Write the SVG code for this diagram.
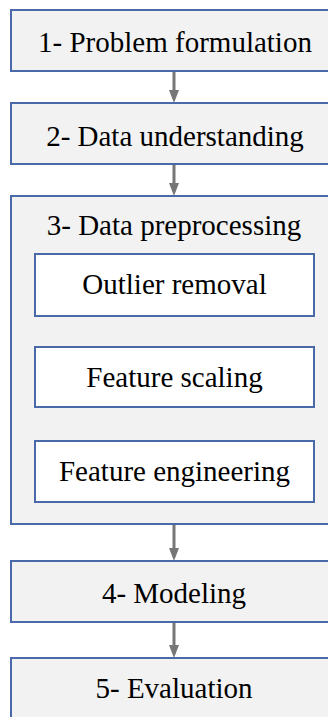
<svg xmlns="http://www.w3.org/2000/svg" width="328" height="717" viewBox="0 0 328 717">
<style>
.box{fill:#f2f2f2;stroke:#4a69a8;stroke-width:2}
.inner{fill:#ffffff;stroke:#4a69a8;stroke-width:2}
.t{font-family:"Liberation Serif","Times New Roman",serif;font-size:29px;fill:#000000;text-anchor:middle}
.shaft{stroke:#767676;stroke-width:3}
.head{fill:#767676}
</style>
<rect x="0" y="0" width="328" height="717" fill="#ffffff"/>
<g id="connectors">
<line class="shaft" x1="174" y1="71" x2="174" y2="91"/><polygon class="head" points="169,90 179,90 174,103"/>
<line class="shaft" x1="174" y1="164" x2="174" y2="184"/><polygon class="head" points="169,183 179,183 174,196"/>
<line class="shaft" x1="174" y1="524" x2="174" y2="549"/><polygon class="head" points="169,548 179,548 174,561"/>
<line class="shaft" x1="174" y1="622" x2="174" y2="646"/><polygon class="head" points="169,645 179,645 174,658"/>
</g>
<g id="n1"><rect class="box" x="11" y="10" width="340" height="61"/><text class="t" x="175" y="52">1- Problem formulation</text></g>
<g id="n2"><rect class="box" x="11" y="103" width="340" height="61"/><text class="t" x="175" y="146">2- Data understanding</text></g>
<g id="n3"><rect class="box" x="11" y="196" width="340" height="328"/><text class="t" x="174" y="235">3- Data preprocessing</text></g>
<g id="n3a"><rect class="inner" x="35" y="254" width="279" height="62"/><text class="t" x="174.5" y="294">Outlier removal</text></g>
<g id="n3b"><rect class="inner" x="35" y="347" width="279" height="60"/><text class="t" x="174.5" y="387">Feature scaling</text></g>
<g id="n3c"><rect class="inner" x="35" y="441" width="279" height="61"/><text class="t" x="174.5" y="481">Feature engineering</text></g>
<g id="n4"><rect class="box" x="11" y="561" width="340" height="61"/><text class="t" x="174" y="603">4- Modeling</text></g>
<g id="n5"><rect class="box" x="11" y="658" width="340" height="80"/><text class="t" x="174" y="698">5- Evaluation</text></g>
</svg>
